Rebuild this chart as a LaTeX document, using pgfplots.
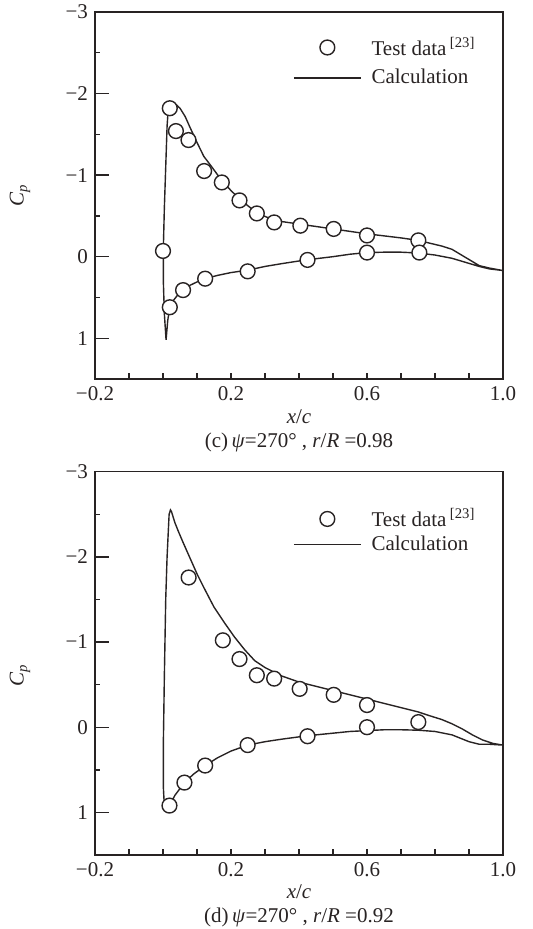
\documentclass[border=0pt]{standalone}
\usepackage{fontspec}
\setmainfont{Liberation Serif}
\usepackage{pgfplots}
\pgfplotsset{compat=1.18}
\definecolor{ink}{RGB}{40,35,35}

\pgfplotstableread{
x y
0.02 -1.82
0.038 -1.54
0.075 -1.43
0.121 -1.05
0.173 -0.91
0.225 -0.69
0.276 -0.53
0.327 -0.42
0.404 -0.38
0.502 -0.34
0.600 -0.26
0.751 -0.20
0.000 -0.07
0.020 0.62
0.059 0.41
0.124 0.27
0.249 0.18
0.425 0.04
0.600 -0.05
0.754 -0.05
}\testc

\pgfplotstableread{
x y
1.00 0.17
0.96 0.14
0.93 0.11
0.89 0.01
0.85 -0.09
0.82 -0.13
0.78 -0.17
0.75 -0.20
0.70 -0.23
0.65 -0.255
0.60 -0.28
0.55 -0.31
0.50 -0.34
0.45 -0.37
0.40 -0.40
0.35 -0.43
0.32 -0.46
0.29 -0.51
0.26 -0.59
0.23 -0.69
0.20 -0.81
0.17 -0.95
0.14 -1.12
0.12 -1.23
0.10 -1.40
0.08 -1.58
0.065 -1.72
0.05 -1.82
0.04 -1.86
0.03 -1.87
0.02 -1.84
0.015 -1.78
0.012 -1.60
0.008 -1.10
0.004 -0.60
0.001 -0.10
0.001 0.30
0.004 0.70
0.009 1.02
0.014 0.78
0.020 0.62
0.030 0.54
0.045 0.46
0.060 0.40
0.080 0.35
0.100 0.31
0.124 0.27
0.160 0.23
0.200 0.195
0.250 0.165
0.300 0.12
0.350 0.085
0.420 0.04
0.500 0.00
0.550 -0.03
0.600 -0.05
0.650 -0.055
0.700 -0.055
0.750 -0.045
0.800 -0.02
0.850 0.02
0.890 0.07
0.930 0.12
0.960 0.15
1.000 0.17
}\calcc

\pgfplotstableread{
x y
0.0754 -1.757
0.176 -1.02
0.225 -0.80
0.276 -0.61
0.327 -0.57
0.402 -0.45
0.502 -0.38
0.600 -0.26
0.751 -0.06
0.600 0.00
0.425 0.106
0.249 0.21
0.124 0.45
0.063 0.65
0.019 0.92
}\testd

\pgfplotstableread{
x y
1.00 0.21
0.97 0.19
0.94 0.15
0.91 0.09
0.88 0.02
0.85 -0.04
0.82 -0.09
0.78 -0.14
0.75 -0.18
0.70 -0.23
0.65 -0.28
0.60 -0.33
0.55 -0.38
0.50 -0.43
0.45 -0.48
0.40 -0.53
0.35 -0.60
0.30 -0.70
0.27 -0.78
0.24 -0.91
0.21 -1.06
0.18 -1.23
0.15 -1.41
0.12 -1.64
0.10 -1.80
0.08 -1.98
0.06 -2.16
0.045 -2.30
0.035 -2.40
0.025 -2.53
0.022 -2.55
0.018 -2.50
0.012 -2.00
0.008 -1.50
0.004 -0.60
0.001 0.20
0.001 0.70
0.004 0.93
0.019 0.92
0.035 0.80
0.063 0.65
0.090 0.55
0.124 0.45
0.160 0.36
0.200 0.28
0.249 0.21
0.300 0.17
0.350 0.14
0.425 0.10
0.500 0.07
0.550 0.05
0.600 0.04
0.650 0.03
0.700 0.03
0.750 0.035
0.800 0.05
0.850 0.09
0.900 0.17
0.930 0.20
0.960 0.20
1.000 0.21
}\calcd

\pgfplotsset{
  cpaxis/.style={
    scale only axis, width=204pt,
    xmin=-0.2, xmax=1.0, ymin=-3, ymax=1.5, y dir=reverse,
    axis line style={ink, line width=0.7pt},
    xtick={-0.2,0.2,0.6,1.0}, xticklabels={−0.2,0.2,0.6,1.0},
    minor xtick={-0.1,0,0.1,0.3,0.4,0.5,0.7,0.8,0.9},
    ytick={-3,-2,-1,0,1}, yticklabels={−3,−2,−1,0,1},
    minor ytick={-2.5,-1.5,-0.5,0.5},
    tick pos=left, tick align=inside,
    xtick style={ink, line width=0.7pt, /pgfplots/major tick length=3pt, /pgfplots/minor tick length=3pt},
    ytick style={ink, line width=0.7pt, /pgfplots/major tick length=7pt, /pgfplots/minor tick length=2.5pt},
    tick label style={text=ink, font=\fontsize{10.5}{12}\selectfont},
    ylabel={\textit{C}\textsubscript{\textit{p}}},
    ylabel style={at={(axis description cs:0,0.5)}, anchor=center, yshift=37.5pt, text=ink, font=\fontsize{10.5}{12}\selectfont},
    legend cell align=left,
    legend style={draw=none, fill=none, at={(0.47,0.955)}, anchor=north west,
      font=\fontsize{10.5}{12}\selectfont, text=ink, row sep=1.5pt, column sep=3pt},
    legend image code/.code={\draw[mark repeat=2,mark phase=2,##1] plot coordinates {(0pt,0pt) (16.75pt,0pt) (33.5pt,0pt)};},
  },
  calcline/.style={ink, line width=0.7pt, no marks},
  testmarks/.style={only marks, mark=*, mark size=3.7pt, mark options={fill=white, draw=ink, line width=0.7pt}},
}

\begin{document}
\begin{tikzpicture}[every node/.append style={font=\fontsize{10.5}{12}\selectfont}]
\begin{axis}[cpaxis, name=c, height=183.5pt, at={(0pt,0pt)}, anchor=north west]
\addplot[calcline, forget plot] table {\calcc};
\addplot[testmarks] table {\testc};
\addlegendentry{Test data\,\textsuperscript{[23]}}
\addlegendimage{calcline}
\addlegendentry{Calculation}
\end{axis}
\node[text=ink, anchor=center] at ([yshift=-19pt]c.south) {\textit{x}/\textit{c}};
\node[text=ink, anchor=center] at ([yshift=-31.5pt]c.south) {(c)\,\textit{ψ}=270° , \textit{r}/\textit{R} =0.98};

\begin{axis}[cpaxis, name=d, height=191.7pt, at={(0pt,-229.8pt)}, anchor=north west,
  ylabel style={yshift=0pt, xshift=-6pt},
  legend style={at={(0.47,0.926)}, row sep=-1pt}]
\addplot[calcline, forget plot] table {\calcd};
\addplot[testmarks] table {\testd};
\addlegendentry{Test data\,\textsuperscript{[23]}}
\addlegendimage{calcline}
\addlegendentry{Calculation}
\end{axis}
\node[text=ink, anchor=center] at ([yshift=-18.5pt]d.south) {\textit{x}/\textit{c}};
\node[text=ink, anchor=center] at ([yshift=-31pt]d.south) {(d)\,\textit{ψ}=270° , \textit{r}/\textit{R} =0.92};

\pgfresetboundingbox
\path[use as bounding box] (-47.5pt,6pt) rectangle (218.5pt,-458.5pt);
\end{tikzpicture}
\end{document}
